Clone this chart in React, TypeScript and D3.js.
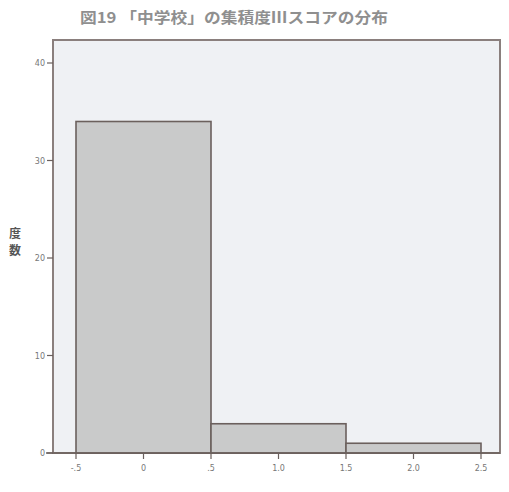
import React from "react";
import * as d3 from "d3";

const title = "図19 「中学校」の集積度Ⅲスコアの分布";
const yLabel = ["度", "数"];
const binStarts = [-0.5, 0.5, 1.5];
const binEnds = [0.5, 1.5, 2.5];
const counts = [34, 3, 1];
const xTicks = [-0.5, 0, 0.5, 1.0, 1.5, 2.0, 2.5];
const xTickLabels = ["-.5", "0", ".5", "1.0", "1.5", "2.0", "2.5"];
const yTicks = [0, 10, 20, 30, 40];

export default function App() {
  const W = 509, H = 492;
  const left = 53, right = 500, top = 40, bottom = 453;
  const x = d3.scaleLinear().domain([-0.5, 2.5]).range([76, 481]);
  const y = d3.scaleLinear().domain([0, 40]).range([bottom, 63]);
  const frame = "#8a7f7d";
  const dark = "#6b605d";
  return (
    <svg width={W} height={H} style={{ position: "absolute", left: 0, top: 0, background: "#fff" }}>
      <text x={80} y={23} fontFamily="'Noto Sans CJK JP'" fontSize={15} fontWeight="bold" fill="#8f8f8f" textLength={308} lengthAdjust="spacingAndGlyphs">{title}</text>
      <rect x={left} y={top} width={right - left} height={bottom - top} fill="#eff1f4" stroke={frame} strokeWidth={2} />
      {counts.map((c, i) => (
        <rect key={i} x={x(binStarts[i])} y={y(c)} width={x(binEnds[i]) - x(binStarts[i])} height={bottom - y(c)} fill="#c9caca" stroke={dark} strokeWidth={1.6} />
      ))}
      <line x1={left} x2={left} y1={top} y2={bottom} stroke={frame} strokeWidth={2} />
      <line x1={46} x2={right} y1={bottom} y2={bottom} stroke={dark} strokeWidth={1.6} />
      {yTicks.map((t) => (
        <g key={t}>
          <line x1={left - 6} x2={left} y1={y(t)} y2={y(t)} stroke={dark} strokeWidth={1.2} />
          <text x={left - 8} y={y(t) + 3} textAnchor="end" fontFamily="DejaVu Sans" fontSize={8} fill="#777">{t}</text>
        </g>
      ))}
      {xTicks.map((t, i) => (
        <g key={t}>
          <line x1={x(t)} x2={x(t)} y1={bottom} y2={bottom + 6} stroke={dark} strokeWidth={1.2} />
          <text x={x(t)} y={bottom + 18} textAnchor="middle" fontFamily="DejaVu Sans" fontSize={8} fill="#777">{xTickLabels[i]}</text>
        </g>
      ))}
      {yLabel.map((ch, i) => (
        <text key={i} x={15} y={238 + i * 17} textAnchor="middle" fontFamily="'Noto Sans CJK JP'" fontSize={12} fontWeight="bold" fill="#555">{ch}</text>
      ))}
    </svg>
  );
}
